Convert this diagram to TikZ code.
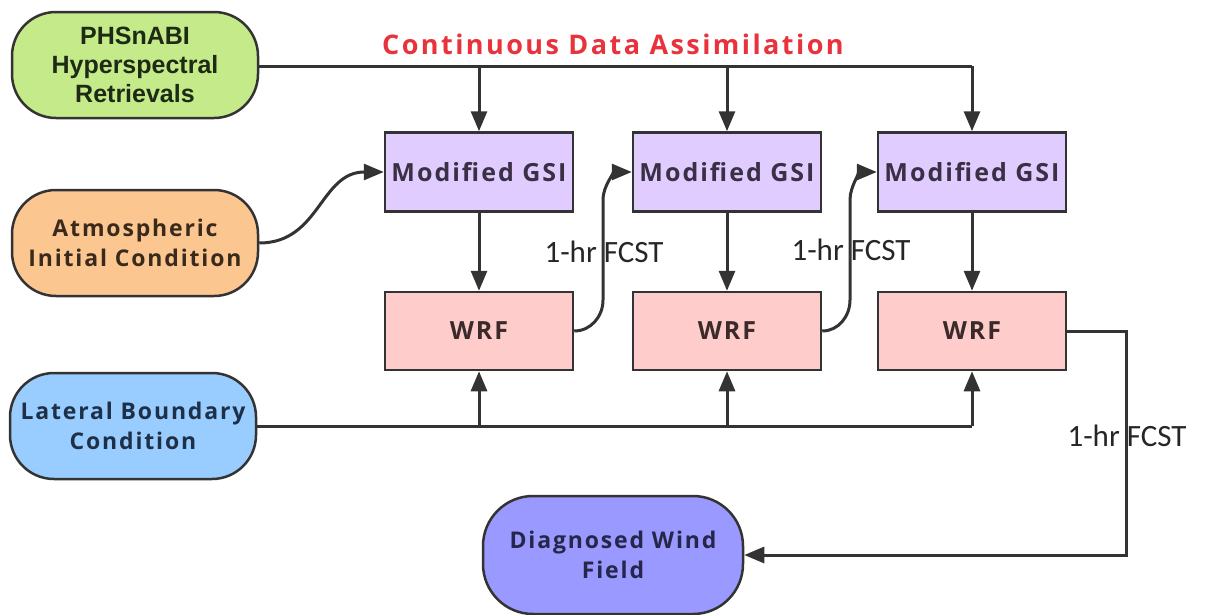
\documentclass[tikz,border=0pt]{standalone}
\usepackage{fontspec}
\setmainfont{Open Sans}
\newfontfamily\arialb{Liberation Sans}
\newfontfamily\calib{Carlito}
\usetikzlibrary{arrows.meta}
\definecolor{lc}{HTML}{333333}
\definecolor{grn}{HTML}{C4EA8A}
\definecolor{org}{HTML}{FBC690}
\definecolor{blu}{HTML}{99CCFF}
\definecolor{pur}{HTML}{9999FF}
\definecolor{gsic}{HTML}{E1CCFF}
\definecolor{wrfc}{HTML}{FFCCCC}
\definecolor{ttl}{HTML}{E8333D}
\definecolor{tgrn}{HTML}{1E2A14}
\definecolor{torg}{HTML}{3A2A1C}
\definecolor{tblu}{HTML}{1E3048}
\definecolor{tpur}{HTML}{26264A}
\definecolor{tgsi}{HTML}{3A3045}
\definecolor{twrf}{HTML}{3A2A2A}
\tikzset{
  every node/.style={inner sep=0pt},
  pill/.style={draw=lc, line width=2.5pt, rounded corners=44pt, minimum width=246pt, minimum height=106pt, align=center, font=\fontsize{23}{30}\selectfont\bfseries\addfontfeature{LetterSpace=8}},
  gsibox/.style={draw=lc, line width=2.5pt, fill=gsic, minimum width=188pt, minimum height=79pt, font=\fontsize{25}{28}\selectfont\bfseries\addfontfeature{LetterSpace=8}, text=tgsi},
  wrfbox/.style={draw=lc, line width=2.5pt, fill=wrfc, minimum width=188pt, minimum height=78pt, font=\fontsize{25}{28}\selectfont\bfseries\addfontfeature{LetterSpace=8}, text=twrf},
  conn/.style={draw=lc, line width=3pt},
  arr/.style={conn, -{Triangle[length=20pt,width=16pt]}},
  fcst/.style={font=\calib\fontsize{31}{36}\selectfont, text=black!85}
}
\begin{document}
\begin{tikzpicture}[x=1pt,y=-1pt]
\useasboundingbox (0,0) rectangle (1205,614);
% source nodes
\node[pill, fill=grn, text=tgrn, font=\arialb\fontsize{25}{29}\selectfont\bfseries] (phs) at (135,65) {PHSnABI\\Hyperspectral\\Retrievals};
\node[pill, fill=org, text=torg] (atm) at (135,243) {Atmospheric\\Initial Condition};
\node[pill, fill=blu, text=tblu] (lat) at (133,426) {Lateral Boundary\\Condition};
\node[pill, fill=pur, text=tpur, minimum width=260pt, minimum height=118pt, rounded corners=50pt] (dwf) at (613,555) {Diagnosed Wind\\Field};
% title
\node[font=\fontsize{27}{30}\selectfont\bfseries\addfontfeature{LetterSpace=9}, text=ttl] (title) at (613,44) {Continuous Data Assimilation};
% GSI and WRF boxes
\node[gsibox] (g1) at (479,172) {Modified GSI};
\node[gsibox] (g2) at (727,172) {Modified GSI};
\node[gsibox] (g3) at (972,172) {Modified GSI};
\node[wrfbox] (w1) at (479,331) {WRF};
\node[wrfbox] (w2) at (727,331) {WRF};
\node[wrfbox] (w3) at (972,331) {WRF};
% top feed line
\coordinate (t3) at (g3.north |- 0,66);
\draw[conn] (phs.east |- t3) -- (t3);
\draw[arr] (g1.north |- t3) -- (g1.north);
\draw[arr] (g2.north |- t3) -- (g2.north);
\draw[arr] (t3) -- (g3.north);
% GSI -> WRF
\draw[arr] (g1) -- (w1);
\draw[arr] (g2) -- (w2);
\draw[arr] (g3) -- (w3);
% atmospheric initial condition
\draw[arr] (atm.east) .. controls (320,243) and (320,172) .. (g1.west);
% lateral boundary line
\coordinate (b3) at (w3.south |- 0,426);
\draw[conn] (lat.east |- b3) -- (b3);
\draw[arr] (w1.south |- b3) -- (w1.south);
\draw[arr] (w2.south |- b3) -- (w2.south);
\draw[arr] (b3) -- (w3.south);
% 1-hr forecasts between cycles
\coordinate (c1) at (603,300);
\coordinate (c2) at (603,200);
\draw[arr] (w1.east) to[out=0,in=-90] (c1) -- (c2) to[out=90,in=180] (g2.west);
\coordinate (c3) at (850,300);
\coordinate (c4) at (850,200);
\draw[arr] (w2.east) to[out=0,in=-90] (c3) -- (c4) to[out=90,in=180] (g3.west);
\node[fcst] (l1) at (604,252) {1-hr FCST};
\node[fcst] (l2) at (851,250) {1-hr FCST};
% final forecast
\coordinate (r1) at (1126,331);
\coordinate (r2) at (1126,555);
\draw[arr] (w3.east) -- (r1) -- (r2) -- (dwf.east);
\node[fcst] (l3) at (1127,436) {1-hr FCST};
\end{tikzpicture}
\end{document}
